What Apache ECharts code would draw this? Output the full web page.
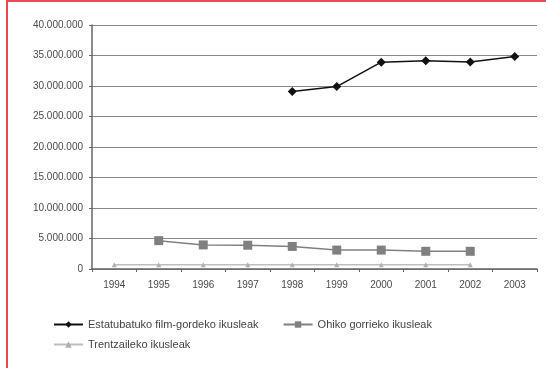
<!DOCTYPE html>
<html><head><meta charset="utf-8">
<script src="https://cdn.jsdelivr.net/npm/echarts@6/dist/echarts.min.js"></script>
<style>
html,body{margin:0;padding:0;background:#fff;}
#wrap{position:absolute;left:0;top:0;width:546px;height:368px;}
#frame{position:absolute;left:6px;top:0;width:540px;height:368px;border-left:2px solid #e8494f;border-top:2px solid #e8494f;box-sizing:border-box;pointer-events:none;}
#c{position:absolute;left:0;top:0;width:546px;height:368px;}
</style></head>
<body><div id="wrap"><div id="c"></div><div id="frame"></div></div>
<script>
var years = ['1994','1995','1996','1997','1998','1999','2000','2001','2002','2003'];
var seriesNames = ['Estatubatuko film-gordeko ikusleak','Ohiko gorrieko ikusleak','Trentzaileko ikusleak'];
var s1 = [null,null,null,null,29100000,29900000,33900000,34150000,33950000,34850000];
var s2 = [null,4650000,3950000,3900000,3700000,3100000,3100000,2900000,2900000,null];
var s3 = [700000,700000,700000,700000,700000,700000,700000,700000,700000,null];
var yTicks = {min:0,max:40000000,interval:5000000};

function fmt(v){return String(v).replace(/\B(?=(\d{3})+(?!\d))/g,'.');}
var chart = echarts.init(document.getElementById('c'));
var font = 'Liberation Sans, Arial, sans-serif';
chart.setOption({
  animation:false,
  backgroundColor:'#fff',
  grid:{left:92,top:25,right:9,bottom:99},
  xAxis:{type:'category',data:years,boundaryGap:true,
    axisLine:{lineStyle:{color:'#666',width:1.5}},
    axisTick:{show:true,length:3,lineStyle:{color:'#666'}},
    axisLabel:{color:'#4a4a4a',fontSize:10,fontFamily:font,margin:11}},
  yAxis:{type:'value',min:yTicks.min,max:yTicks.max,interval:yTicks.interval,
    axisLine:{show:true,lineStyle:{color:'#666',width:1.5}},
    axisTick:{show:true,length:3,lineStyle:{color:'#666'}},
    splitLine:{lineStyle:{color:'#8a8a8a',width:1.2}},
    axisLabel:{color:'#4a4a4a',fontSize:10,fontFamily:font,margin:9,formatter:fmt}},
  legend:[
    {data:[seriesNames[0],seriesNames[1]],left:48,top:314,itemWidth:29,itemHeight:8,itemGap:24,
     textStyle:{color:'#444',fontSize:11,fontFamily:font}},
    {data:[seriesNames[2]],left:48,top:334,itemWidth:29,itemHeight:8,
     textStyle:{color:'#444',fontSize:11,fontFamily:font}}
  ],
  series:[
    {name:seriesNames[0],type:'line',data:s1,symbol:'diamond',symbolSize:9,
     lineStyle:{color:'#111',width:1.5},itemStyle:{color:'#111'}},
    {name:seriesNames[1],type:'line',data:s2,symbol:'rect',symbolSize:9,
     lineStyle:{color:'#808080',width:1.5},itemStyle:{color:'#808080'}},
    {name:seriesNames[2],type:'line',data:s3,symbol:'triangle',symbolSize:5,
     lineStyle:{color:'#bdbdbd',width:1.5},itemStyle:{color:'#b0b0b0'}}
  ]
});
</script></body></html>
